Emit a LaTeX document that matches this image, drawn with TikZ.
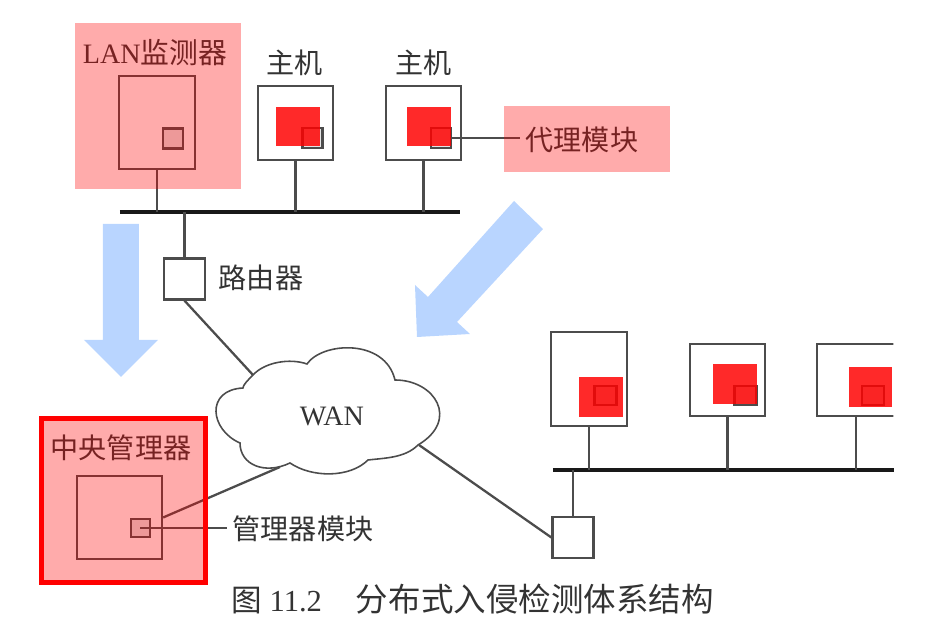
\documentclass[tikz,border=0pt]{standalone}
\usepackage{fontspec}
\setmainfont{Liberation Serif}
\newfontfamily\cjk{Noto Sans CJK SC}
\definecolor{arrowblue}{HTML}{B9D5FF}
\tikzset{
  box/.style={draw=black!70,line width=0.65pt,fill=white,inner sep=0pt},
  modbox/.style={box,fill=gray!20,minimum width=0.2cm,minimum height=0.2cm},
  routerbox/.style={box,minimum width=0.41cm,minimum height=0.41cm},
  redmark/.style={fill=red,fill opacity=0.84,inner sep=0pt,minimum width=0.44cm,minimum height=0.39cm},
  pinkmark/.style={fill=red,fill opacity=0.33,inner sep=0pt},
  label/.style={text=black!80,font=\fontsize{8}{8}\selectfont,inner sep=1.5pt},
  link/.style={draw=black!70,line width=0.65pt},
  bus/.style={black!90,line width=1pt},
}
\begin{document}
\begin{tikzpicture}
\useasboundingbox (0,0) rectangle (9.37,6.35);
\fill[arrowblue] (1.03,4.11) -- (1.39,4.11) -- (1.39,2.95) -- (1.58,2.95) -- (1.21,2.58) -- (0.84,2.95) -- (1.03,2.95) -- cycle;
\fill[arrowblue] (5.14,4.34) -- (4.28,3.38) -- (4.15,3.50) -- (4.17,2.98) -- (4.70,3.01) -- (4.57,3.13) -- (5.43,4.06) -- cycle;
\coordinate (busa) at (1.20,4.23);
\coordinate (busaend) at (4.60,4.23);
\coordinate (busb) at (5.53,1.65);
\coordinate (busbend) at (8.94,1.65);
\coordinate (wannw) at (2.53,2.60);
\coordinate (wansw) at (2.80,1.68);
\coordinate (wanse) at (4.19,1.90);
\node[box,minimum width=0.76cm,minimum height=0.93cm] (lanbox) at (1.57,5.125) {};
\node[modbox] (lanmod) at (1.73,4.965) {};
\node[box,minimum width=0.75cm,minimum height=0.74cm] (hosta) at (2.955,5.12) {};
\node[modbox] (hostamod) at (3.125,4.97) {};
\node[box,minimum width=0.75cm,minimum height=0.74cm] (hostb) at (4.235,5.12) {};
\node[modbox] (hostbmod) at (4.41,4.97) {};
\node[routerbox] (routera) at (1.845,3.56) {};
\node[routerbox] (routerb) at (5.73,0.975) {};
\node[box,minimum width=0.85cm,minimum height=0.83cm] (mgrbox) at (1.195,1.175) {};
\node[modbox,minimum width=0.19cm,minimum height=0.18cm] (mgrmod) at (1.405,1.07) {};
\node[box,minimum width=0.76cm,minimum height=0.94cm] (hostc) at (5.89,2.56) {};
\node[modbox,minimum width=0.22cm,minimum height=0.19cm] (hostcmod) at (6.055,2.395) {};
\node[box,minimum width=0.75cm,minimum height=0.72cm] (hostd) at (7.275,2.55) {};
\node[modbox,minimum width=0.22cm,minimum height=0.19cm] (hostdmod) at (7.455,2.395) {};
\begin{scope}
\clip (8,2) rectangle (8.935,3);
\node[box,minimum width=0.78cm,minimum height=0.72cm] (hoste) at (8.56,2.55) {};
\end{scope}
\node[modbox,minimum width=0.22cm,minimum height=0.19cm] (hostemod) at (8.73,2.395) {};
\draw[bus] (busa) -- (busaend);
\draw[bus] (busb) -- (busbend);
\draw[link] (lanbox.south) -- (lanbox.south |- busa);
\draw[link] (hosta.south) -- (hosta.south |- busa);
\draw[link] (hostb.south) -- (hostb.south |- busa);
\draw[link] (routera.north) -- (routera.north |- busa);
\draw[link] (hostc.south) -- (hostc.south |- busb);
\draw[link] (hostd.south) -- (hostd.south |- busb);
\draw[link] (hoste.south) -- (hoste.south |- busb);
\draw[link] (routerb.north) -- (routerb.north |- busb);
\draw[link] (routera.south) -- (wannw);
\draw[link] (mgrbox.east) -- (wansw);
\draw[link] (wanse) -- (routerb.west);
\draw[link,line width=0.45pt] (2.53,2.60) .. controls (2.65,2.73) and (2.90,2.77) .. (3.07,2.71) .. controls (3.22,2.93) and (3.85,2.97) .. (3.95,2.55) .. controls (4.35,2.55) and (4.60,2.15) .. (4.18,1.90) .. controls (4.05,1.77) and (3.85,1.77) .. (3.68,1.75) .. controls (3.50,1.57) and (3.12,1.57) .. (2.90,1.72) .. controls (2.65,1.60) and (2.40,1.70) .. (2.40,1.92) .. controls (2.10,2.05) and (2.05,2.45) .. (2.43,2.47) .. controls (2.43,2.50) and (2.48,2.55) .. (2.53,2.60);
\node[label] (wan) at (3.32,2.19) {WAN};
\node[label] (lanlabel) at (1.55,5.82) {LAN{\cjk\fontsize{8.2}{8}\selectfont 监测器}};
\node[label] (hostalabel) at (2.95,5.72) {\cjk 主机};
\node[label] (hostblabel) at (4.24,5.72) {\cjk 主机};
\node[label] (routerlabel) at (2.61,3.57) {\cjk 路由器};
\node[label] (agentlabel) at (5.82,4.95) {\cjk 代理模块};
\node[label] (mgrlabel) at (1.21,1.87) {\cjk 中央管理器};
\node[label] (modlabel) at (3.03,1.06) {\cjk 管理器模块};
\node[label,font=\fontsize{8.7}{8.7}\selectfont] (caption) at (4.725,0.36) {{\cjk 图} 11.2\hspace{0.34cm}{\cjk\fontsize{9.25}{9}\selectfont 分布式入侵检测体系结构}};
\draw[link,line width=0.45pt] (hostbmod.east) -- (hostbmod.east -| agentlabel.west);
\draw[link,line width=0.45pt] (mgrmod.center) -- (mgrmod.center -| modlabel.west);
\node[redmark] (marka) at (2.98,5.085) {};
\node[redmark] (markb) at (4.29,5.085) {};
\node[redmark,minimum height=0.40cm] (markc) at (6.01,2.38) {};
\node[redmark,minimum height=0.40cm] (markd) at (7.35,2.51) {};
\node[redmark,minimum width=0.43cm,minimum height=0.40cm] (marke) at (8.705,2.48) {};
\node[pinkmark,minimum width=1.66cm,minimum height=1.66cm] (lanmark) at (1.58,5.29) {};
\node[pinkmark,minimum width=1.66cm,minimum height=0.66cm] (agentmark) at (5.87,4.96) {};
\node[pinkmark,draw=red,draw opacity=1,line width=1.15pt,minimum width=1.64cm,minimum height=1.64cm] (mgrmark) at (1.235,1.345) {};
\end{tikzpicture}
\end{document}
